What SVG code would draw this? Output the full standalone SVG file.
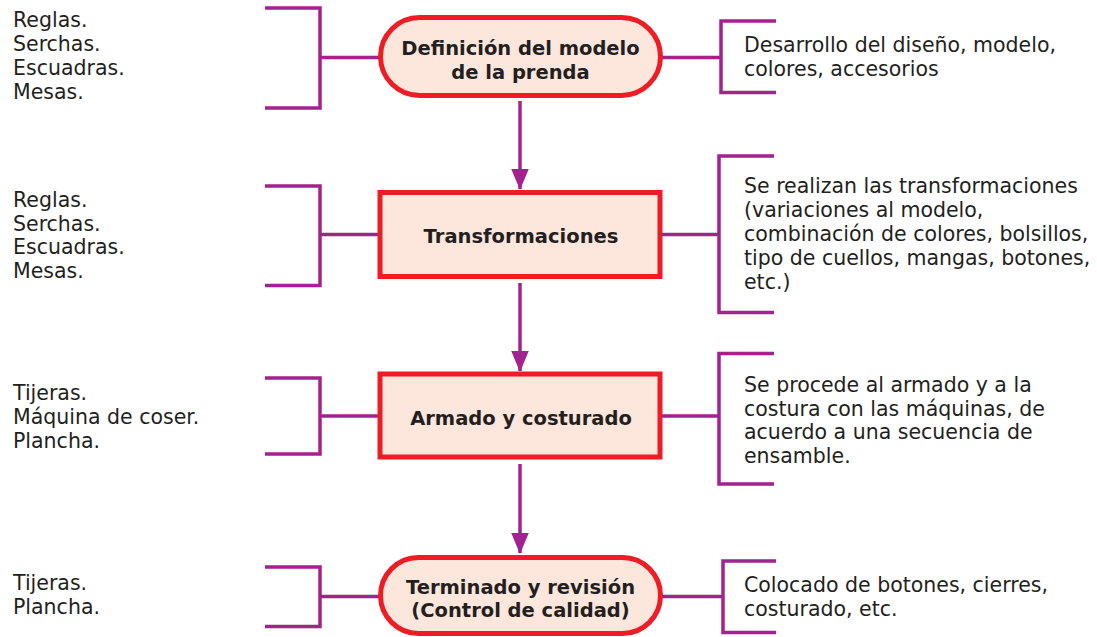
<svg xmlns="http://www.w3.org/2000/svg" width="1097" height="637" viewBox="0 0 1097 637">
<style>
.br{fill:none;stroke:#A2228F;stroke-width:3.5}
.ln{fill:none;stroke:#A2228F;stroke-width:3.5}
.nd{fill:#FDE6DC;stroke:#EE1C25;stroke-width:5}
.t{font-family:"DejaVu Sans","Liberation Sans",sans-serif;font-size:20.5px;fill:#231F20}
.b{font-family:"DejaVu Sans","Liberation Sans",sans-serif;font-size:19.5px;font-weight:bold;fill:#231F20;text-anchor:middle}
</style>
<defs>
<marker id="ah" markerWidth="6" markerHeight="6" refX="5.7" refY="3" orient="auto" markerUnits="strokeWidth" viewBox="0 0 6 6">
<path d="M0,0.5 L6,3 L0,5.5 Z" fill="#A2228F"/>
</marker>
</defs>
<rect width="1097" height="637" fill="#ffffff"/>
<g id="connectors">
<path class="ln" d="M520,101 V189" marker-end="url(#ah)"/>
<path class="ln" d="M520,283 V371" marker-end="url(#ah)"/>
<path class="ln" d="M520,464 V553" marker-end="url(#ah)"/>
<path class="br" d="M265,8 H320 V108 H265 M320,57.5 H380"/>
<path class="br" d="M265,186 H320 V285.5 H265 M320,234.5 H378"/>
<path class="br" d="M265,378 H320 V454 H265 M320,416 H378"/>
<path class="br" d="M265,567 H320 V626.5 H265 M320,596.5 H380"/>
<path class="br" d="M776,21 H721 V92.5 H776 M721,57.5 H661"/>
<path class="br" d="M774,156 H719 V312.5 H774 M719,234.5 H662"/>
<path class="br" d="M774,353.5 H719 V484 H774 M719,416 H662"/>
<path class="br" d="M776,561 H723 V632.5 H776 M723,596.5 H661"/>
</g>
<g id="node-definicion">
<rect class="nd" x="380.5" y="17.5" width="280" height="78" rx="39"/>
<text class="b" x="520.5" y="55">Definición del modelo</text>
<text class="b" x="520.5" y="78.5">de la prenda</text>
</g>
<g id="node-transformaciones">
<rect class="nd" x="380" y="192.5" width="280" height="84"/>
<text class="b" x="521" y="243">Transformaciones</text>
</g>
<g id="node-armado">
<rect class="nd" x="380" y="374" width="280" height="83"/>
<text class="b" x="521" y="425">Armado y costurado</text>
</g>
<g id="node-terminado">
<rect class="nd" x="380.5" y="557.5" width="280" height="76" rx="38"/>
<text class="b" x="520.5" y="593.5">Terminado y revisión</text>
<text class="b" x="520.5" y="617">(Control de calidad)</text>
</g>
<g id="left-texts">
<text class="t" x="13" y="27.3">Reglas.</text>
<text class="t" x="13" y="51">Serchas.</text>
<text class="t" x="13" y="75">Escuadras.</text>
<text class="t" x="13" y="99">Mesas.</text>
<text class="t" x="13" y="206.7">Reglas.</text>
<text class="t" x="13" y="230.5">Serchas.</text>
<text class="t" x="13" y="254.3">Escuadras.</text>
<text class="t" x="13" y="278">Mesas.</text>
<text class="t" x="13" y="400">Tijeras.</text>
<text class="t" x="13" y="423.7">Máquina de coser.</text>
<text class="t" x="13" y="447.5">Plancha.</text>
<text class="t" x="13" y="590">Tijeras.</text>
<text class="t" x="13" y="614">Plancha.</text>
</g>
<g id="right-texts">
<text class="t" x="744" y="51.7">Desarrollo del diseño, modelo,</text>
<text class="t" x="744" y="76">colores, accesorios</text>
<text class="t" x="744" y="192.7">Se realizan las transformaciones</text>
<text class="t" x="744" y="216.7">(variaciones al modelo,</text>
<text class="t" x="744" y="240.7">combinación de colores, bolsillos,</text>
<text class="t" x="744" y="265">tipo de cuellos, mangas, botones,</text>
<text class="t" x="744" y="289">etc.)</text>
<text class="t" x="744" y="391.7">Se procede al armado y a la</text>
<text class="t" x="744" y="415.5">costura con las máquinas, de</text>
<text class="t" x="744" y="439.3">acuerdo a una secuencia de</text>
<text class="t" x="744" y="463.1">ensamble.</text>
<text class="t" x="744" y="591.7">Colocado de botones, cierres,</text>
<text class="t" x="744" y="615.5">costurado, etc.</text>
</g>
</svg>
